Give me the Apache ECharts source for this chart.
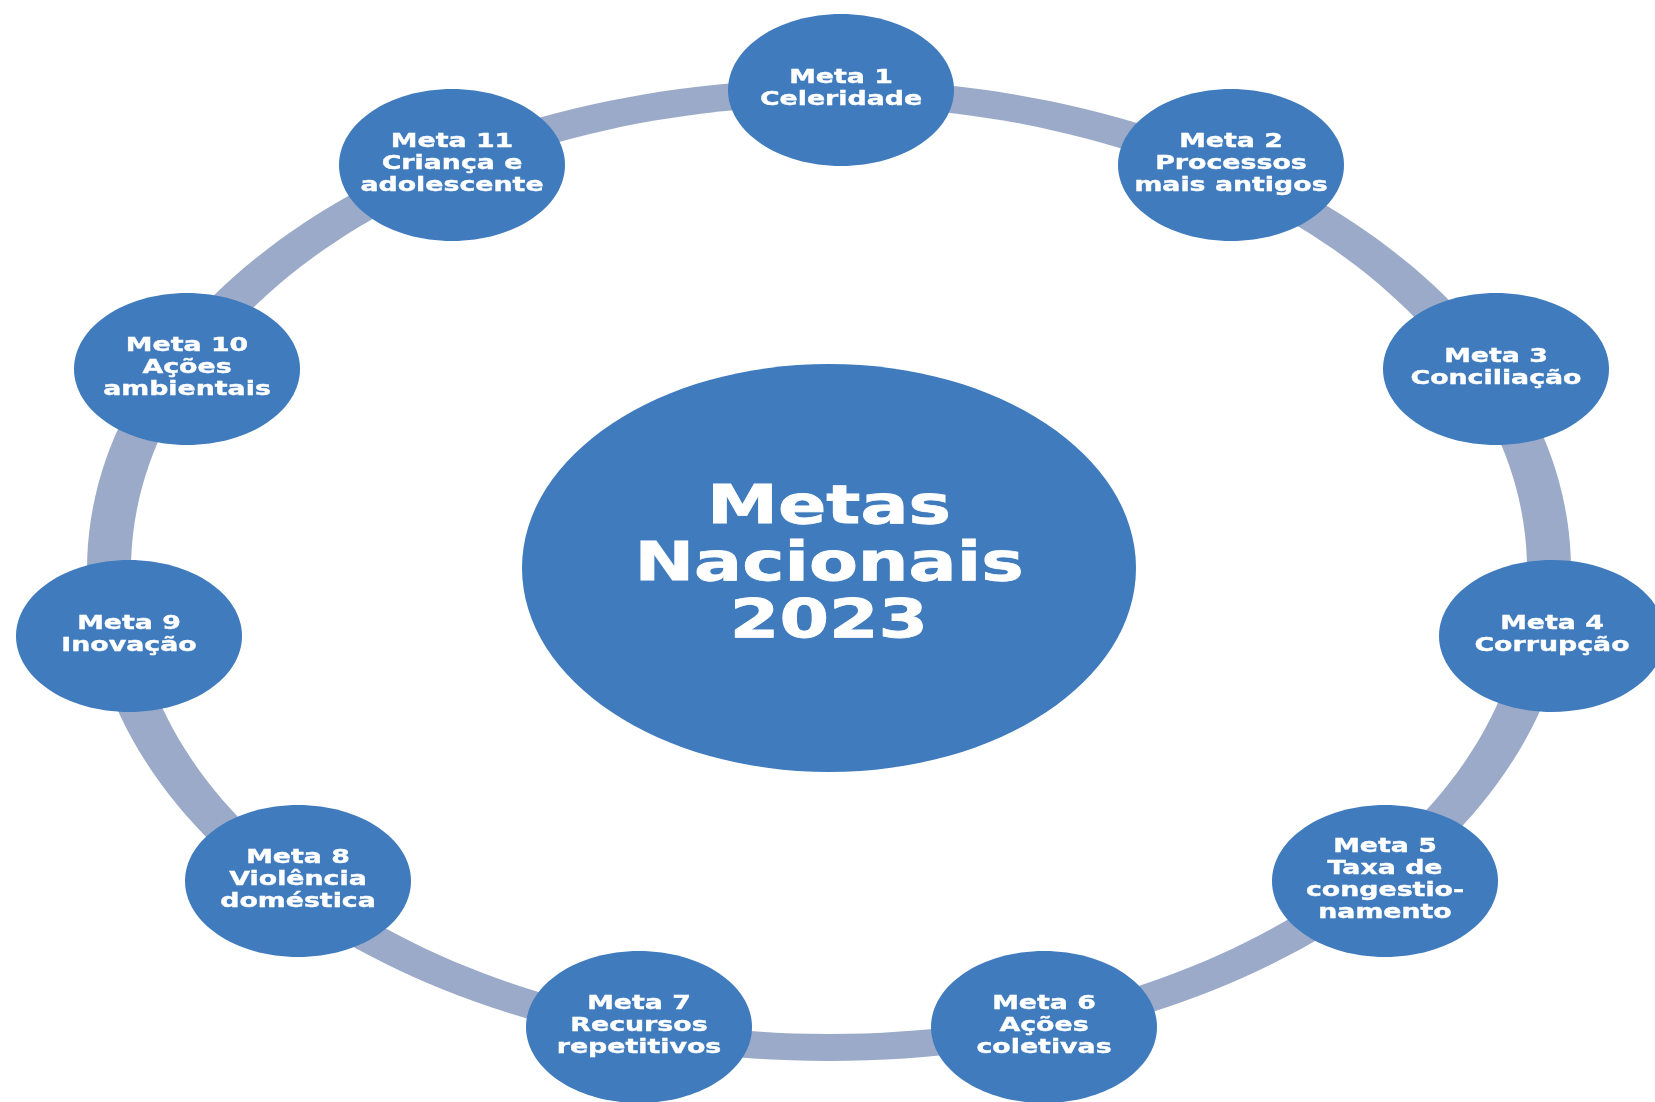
<!DOCTYPE html>
<html>
<head>
<meta charset="utf-8">
<script src="https://cdn.jsdelivr.net/npm/echarts@6/dist/echarts.min.js"></script>
<style>
html,body{margin:0;padding:0;background:#ffffff;}
#chart{width:1655px;height:1102px;}
</style>
</head>
<body>
<div id="chart"></div>
<script>
// ---- data ----
const metaTitles = ['Meta 1','Meta 2','Meta 3','Meta 4','Meta 5','Meta 6','Meta 7','Meta 8','Meta 9','Meta 10','Meta 11'];
const metaLabels = ['Celeridade','Processos\nmais antigos','Conciliação','Corrupção','Taxa de\ncongestio-\nnamento','Ações\ncoletivas','Recursos\nrepetitivos','Violência\ndoméstica','Inovação','Ações\nambientais','Criança e\nadolescente'];
const metaX = [841, 1231, 1496, 1552, 1385, 1044, 639, 298, 129, 187, 452];
const metaY = [90, 165, 369, 636, 881, 1027, 1027, 881, 636, 369, 165];
const hubText = 'Metas\nNacionais\n2023';
const hubX = [829];
const hubY = [568];
const ringX = [829];
const ringY = [570];

// ---- styles / sizes ----
const BLUE = '#3f7bbd';
const RING = '#9aaac8';
const NODE_R = [113, 76];
const HUB_R = [307, 204];
const RING_OUT = [742, 491];
const RING_IN = [698, 464];
const FONT = '"DejaVu Sans", sans-serif';

const chart = echarts.init(document.getElementById('chart'), null, {renderer:'canvas'});

function ringItem(params, api) {
  const c = api.coord([api.value(0), api.value(1)]);
  const so = api.size([RING_OUT[0], RING_OUT[1]]);
  const si = api.size([RING_IN[0], RING_IN[1]]);
  return {
    type: 'group',
    children: [
      {type:'ellipse', shape:{cx:c[0], cy:c[1], rx:so[0], ry:so[1]}, style:{fill:RING}},
      {type:'ellipse', shape:{cx:c[0], cy:c[1], rx:si[0], ry:si[1]}, style:{fill:'#ffffff'}}
    ]
  };
}

function nodeItem(params, api) {
  const i = params.dataIndex;
  const c = api.coord([api.value(0), api.value(1)]);
  const s = api.size([NODE_R[0], NODE_R[1]]);
  const txt = metaTitles[i] + '\n' + metaLabels[i];
  return {
    type: 'group',
    children: [
      {type:'ellipse', shape:{cx:c[0], cy:c[1], rx:s[0], ry:s[1]}, style:{fill:BLUE}},
      {type:'text', x:c[0], y:c[1] - 1, scaleX:1.34, scaleY:1,
        style:{text:txt, fill:'#ffffff', stroke:'#ffffff', lineWidth:0.4,
          fontSize:20, fontWeight:'bold', fontFamily:FONT,
          lineHeight:22, align:'center', verticalAlign:'middle'}}
    ]
  };
}

function hubItem(params, api) {
  const c = api.coord([api.value(0), api.value(1)]);
  const s = api.size([HUB_R[0], HUB_R[1]]);
  return {
    type: 'group',
    children: [
      {type:'ellipse', shape:{cx:c[0], cy:c[1], rx:s[0], ry:s[1]}, style:{fill:BLUE}},
      {type:'text', x:c[0], y:c[1] - 2, scaleX:1.32, scaleY:1,
        style:{text:hubText, fill:'#ffffff', stroke:'#ffffff', lineWidth:0.8,
          fontSize:54, fontWeight:'bold', fontFamily:FONT,
          lineHeight:57, align:'center', verticalAlign:'middle'}}
    ]
  };
}

chart.setOption({
  animation: false,
  backgroundColor: '#ffffff',
  grid: {left:0, right:0, top:0, bottom:0},
  xAxis: {type:'value', min:0, max:1655, show:false},
  yAxis: {type:'value', min:0, max:1102, inverse:true, show:false},
  series: [
    {type:'custom', renderItem: ringItem, data: ringX.map((x,i)=>[x, ringY[i]]), silent:true, z:1},
    {type:'custom', renderItem: hubItem, data: hubX.map((x,i)=>[x, hubY[i]]), silent:true, z:2},
    {type:'custom', renderItem: nodeItem, data: metaX.map((x,i)=>[x, metaY[i]]), silent:true, z:3}
  ]
});
</script>
</body>
</html>
